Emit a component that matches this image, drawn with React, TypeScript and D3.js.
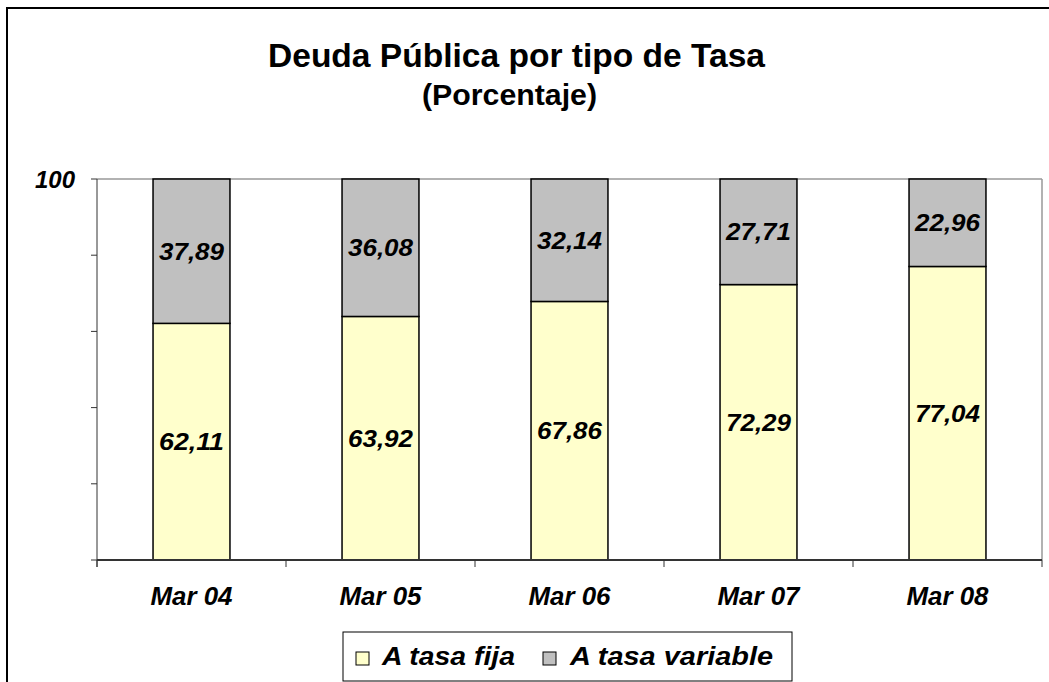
import React from "react";
import * as d3 from "d3";

const categories = ["Mar 04", "Mar 05", "Mar 06", "Mar 07", "Mar 08"];
const fija = [62.11, 63.92, 67.86, 72.29, 77.04];
const variable = [37.89, 36.08, 32.14, 27.71, 22.96];
const yTicks = [0, 20, 40, 60, 80, 100];
const yTickLabels = ["", "", "", "", "", "100"];
const seriesNames = ["A tasa fija", "A tasa variable"];
const seriesColors = ["#FFFFCC", "#C0C0C0"];

const W = 1049;
const H = 682;
const FONT = "'Liberation Sans', Arial, sans-serif";

export default function App() {
  const left = 97, right = 1042, top = 179, bottom = 560;
  const x = d3.scaleBand<string>().domain(categories).range([left, right]).paddingInner(0.593).paddingOuter(0.2965);
  const y = d3.scaleLinear().domain([0, 100]).range([bottom, top]);
  const step = x.step();
  const fmt = (v: number) => v.toFixed(2).replace(".", ",");

  const stacked = categories.map((c, i) => [
    { key: 0, y0: 0, y1: fija[i], v: fija[i] },
    { key: 1, y0: fija[i], y1: fija[i] + variable[i], v: variable[i] },
  ]);

  const legendX = [356, 543];
  const legendTextX = [382, 570];
  const legendTextW = [133, 203];

  return (
    <svg width={W} height={H} style={{ position: "absolute", left: 0, top: 0, background: "#fff" }} fontFamily={FONT}>
      <rect x={0} y={0} width={W} height={H} fill="#fff" />
      {/* outer frame */}
      <rect x={7} y={8} width={1200} height={800} fill="none" stroke="#000" strokeWidth={2} />
      {/* title */}
      <text x={268} y={67} fontSize={33} fontWeight="bold" textLength={497} lengthAdjust="spacingAndGlyphs">Deuda Pública por tipo de Tasa</text>
      <text x={422} y={105} fontSize={29} fontWeight="bold" textLength={175} lengthAdjust="spacingAndGlyphs">(Porcentaje)</text>

      {/* plot area border (top and right) */}
      <line x1={left} x2={right} y1={top} y2={top} stroke="#999" strokeWidth={1.5} />
      <line x1={right} x2={right} y1={top} y2={bottom} stroke="#999" strokeWidth={1.5} />

      {/* bars */}
      {stacked.map((segs, i) =>
        segs.map((s) => (
          <rect
            key={`${i}-${s.key}`}
            x={x(categories[i])!}
            y={y(s.y1)}
            width={x.bandwidth()}
            height={y(s.y0) - y(s.y1)}
            fill={seriesColors[s.key]}
            stroke="#000"
            strokeWidth={1.5}
          />
        ))
      )}

      {/* value labels */}
      {stacked.map((segs, i) =>
        segs.map((s) => (
          <text
            key={`l${i}-${s.key}`}
            x={x(categories[i])! + x.bandwidth() / 2 - 32.5}
            y={(y(s.y0) + y(s.y1)) / 2}
            dy="0.36em"
            fontSize={24}
            fontWeight="bold"
            fontStyle="italic"
            textLength={65}
            lengthAdjust="spacingAndGlyphs"
          >
            {fmt(s.v)}
          </text>
        ))
      )}

      {/* y axis */}
      <line x1={left} x2={left} y1={top} y2={bottom + 7} stroke="#333" strokeWidth={1} />
      {yTicks.map((t, i) => (
        <g key={`yt${t}`}>
          <line x1={left - 6} x2={left} y1={y(t)} y2={y(t)} stroke="#333" strokeWidth={1} />
          {yTickLabels[i] && (
            <text x={75} y={y(t)} dy="0.36em" textAnchor="end" fontSize={24} fontWeight="bold" fontStyle="italic">
              {yTickLabels[i]}
            </text>
          )}
        </g>
      ))}

      {/* x axis */}
      <line x1={left} x2={right} y1={bottom} y2={bottom} stroke="#333" strokeWidth={2} />
      {d3.range(categories.length + 1).map((k) => (
        <line key={`xt${k}`} x1={left + k * step} x2={left + k * step} y1={bottom} y2={bottom + 7} stroke="#333" strokeWidth={1} />
      ))}
      {categories.map((c) => (
        <text
          key={c}
          x={x(c)! + x.bandwidth() / 2 - 41}
          y={605}
          fontSize={25}
          fontWeight="bold"
          fontStyle="italic"
          textLength={82}
          lengthAdjust="spacingAndGlyphs"
        >
          {c}
        </text>
      ))}

      {/* legend */}
      <rect x={343} y={632} width={449} height={49} fill="#fff" stroke="#000" strokeWidth={1} />
      {seriesNames.map((n, i) => (
        <g key={n}>
          <rect x={legendX[i]} y={652} width={13} height={13} fill={seriesColors[i]} stroke="#000" strokeWidth={1} />
          <text
            x={legendTextX[i]}
            y={665}
            fontSize={25}
            fontWeight="bold"
            fontStyle="italic"
            textLength={legendTextW[i]}
            lengthAdjust="spacingAndGlyphs"
          >
            {n}
          </text>
        </g>
      ))}
    </svg>
  );
}
